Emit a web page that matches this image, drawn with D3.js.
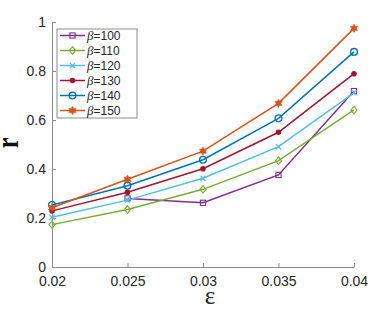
<!DOCTYPE html>
<html>
<head>
<meta charset="utf-8">
<script src="https://cdn.jsdelivr.net/npm/d3@7"></script>
<style>
  body { margin: 0; background: #fff; }
  svg { display: block; font-family: "Liberation Sans", Arial, sans-serif; }
</style>
</head>
<body>
<svg id="chart" width="390" height="314"></svg>
<script>
// data
const epsilons = [0.02, 0.025, 0.03, 0.035, 0.04];
const xTicks   = [0.02, 0.025, 0.03, 0.035, 0.04];
const yTicks   = [0, 0.2, 0.4, 0.6, 0.8, 1];
const betas    = [100, 110, 120, 130, 140, 150];

const r100 = [null, 0.280, 0.262, 0.376, 0.718];
const r110 = [0.173, 0.235, 0.317, 0.434, 0.641];
const r120 = [0.203, 0.273, 0.362, 0.491, 0.711];
const r130 = [0.229, 0.305, 0.401, 0.550, 0.789];
const r140 = [0.253, 0.332, 0.438, 0.607, 0.878];
const r150 = [0.242, 0.358, 0.473, 0.668, 0.974];

const seriesVals = [r100, r110, r120, r130, r140, r150];
const colors  = ['#7E2F8E', '#77AC30', '#4DBEEE', '#A2142F', '#0072BD', '#D95319'];
const markers = ['square', 'diamond', 'cross', 'dot', 'circle', 'hexagram'];

const W = 390, H = 314;
const margin = { left: 52, right: 36, top: 22, bottom: 47 };

const svg = d3.select('#chart');

const x = d3.scaleLinear().domain([0.02, 0.04]).range([margin.left, W - margin.right]);
const y = d3.scaleLinear().domain([0, 1]).range([H - margin.bottom, margin.top]);

const axisColor = '#8c8c8c';
const textColor = '#262626';

// axes (MATLAB style: ticks inside, box off)
const xAxis = svg.append('g')
    .attr('transform', `translate(0,${y(0)})`)
    .call(d3.axisBottom(x).tickValues(xTicks).tickSizeInner(-4).tickSizeOuter(0)
        .tickFormat(d => String(+d.toFixed(3))));
const yAxis = svg.append('g')
    .attr('transform', `translate(${x(0.02)},0)`)
    .call(d3.axisLeft(y).tickValues(yTicks).tickSizeInner(-4).tickSizeOuter(0)
        .tickFormat(d => d === 0 || d === 1 ? String(d) : d.toFixed(1)));

[xAxis, yAxis].forEach(g => {
    g.select('.domain').attr('stroke', axisColor).attr('stroke-width', 1);
    g.selectAll('.tick line').attr('stroke', axisColor);
    g.selectAll('.tick text').attr('fill', textColor).style('font-size', '14px')
        .style('font-family', '"Liberation Sans", Arial, sans-serif');
});
xAxis.selectAll('.tick text').attr('dy', '0.9em').attr('y', 6);
yAxis.selectAll('.tick text').attr('x', -6);

// axis labels
svg.append('text')
    .attr('x', x(0.03) + 7).attr('y', 304)
    .attr('text-anchor', 'middle')
    .style('font-family', '"Liberation Serif", serif')
    .style('font-size', '25px')
    .attr('fill', textColor)
    .text('ε');

svg.append('text')
    .attr('transform', `translate(18,143) rotate(-90) scale(1,1.35)`)
    .attr('text-anchor', 'middle')
    .style('font-family', '"Liberation Serif", serif')
    .style('font-size', '24px')
    .style('font-weight', 'bold')
    .attr('fill', '#111')
    .text('r');

// marker drawing
const hexagram = (s) => {
    const R = s, r = s * 0.55;
    const pts = [];
    for (let i = 0; i < 12; i++) {
        const a = -Math.PI / 2 + i * Math.PI / 6;
        const rr = i % 2 === 0 ? R : r;
        pts.push([rr * Math.cos(a), rr * Math.sin(a)]);
    }
    return 'M' + pts.map(p => p.join(',')).join('L') + 'Z';
};

function drawMarker(g, kind, color, cx, cy) {
    const m = g.append('g').attr('transform', `translate(${cx},${cy})`);
    if (kind === 'square') {
        m.append('rect').attr('x', -2.6).attr('y', -2.6).attr('width', 5.2).attr('height', 5.2)
            .attr('fill', 'none').attr('stroke', color).attr('stroke-width', 1.1);
    } else if (kind === 'diamond') {
        m.append('path').attr('d', 'M0,-3.8L3,0L0,3.8L-3,0Z')
            .attr('fill', 'none').attr('stroke', color).attr('stroke-width', 1.1);
    } else if (kind === 'cross') {
        m.append('path').attr('d', 'M-2.6,-2.6L2.6,2.6M-2.6,2.6L2.6,-2.6')
            .attr('stroke', color).attr('stroke-width', 1.3);
    } else if (kind === 'dot') {
        m.append('circle').attr('r', 2.8).attr('fill', color);
    } else if (kind === 'circle') {
        m.append('circle').attr('r', 3.4).attr('fill', 'none')
            .attr('stroke', color).attr('stroke-width', 1.3);
    } else if (kind === 'hexagram') {
        m.append('path').attr('d', hexagram(4.2)).attr('fill', color)
            .attr('stroke', color).attr('stroke-width', 0.6);
    }
}

const line = d3.line()
    .defined(d => d.v !== null)
    .x(d => x(d.e))
    .y(d => y(d.v));

const plot = svg.append('g');
seriesVals.forEach((vals, i) => {
    const pts = epsilons.map((e, j) => ({ e, v: vals[j] }));
    plot.append('path')
        .datum(pts)
        .attr('d', line)
        .attr('fill', 'none')
        .attr('stroke', colors[i])
        .attr('stroke-width', 1.5);
    pts.filter(p => p.v !== null).forEach(p => drawMarker(plot, markers[i], colors[i], x(p.e), y(p.v)));
});

// legend
const lg = svg.append('g').attr('transform', 'translate(57,29)');
lg.append('rect').attr('x', 0).attr('y', 0).attr('width', 80).attr('height', 89)
    .attr('fill', '#fff').attr('stroke', '#8c8c8c').attr('stroke-width', 1);
betas.forEach((b, i) => {
    const yy = 6.5 + i * 15;
    lg.append('line').attr('x1', 3).attr('x2', 28).attr('y1', yy).attr('y2', yy)
        .attr('stroke', colors[i]).attr('stroke-width', 1.5);
    drawMarker(lg, markers[i], colors[i], 15.5, yy);
    const t = lg.append('text').attr('x', 30).attr('y', yy + 4)
        .style('font-size', '12px').attr('fill', textColor);
    t.append('tspan').style('font-style', 'italic')
        .style('font-family', '"Liberation Serif", serif').style('font-size', '13px').text('β');
    t.append('tspan').text('=' + b);
});
</script>
</body>
</html>
